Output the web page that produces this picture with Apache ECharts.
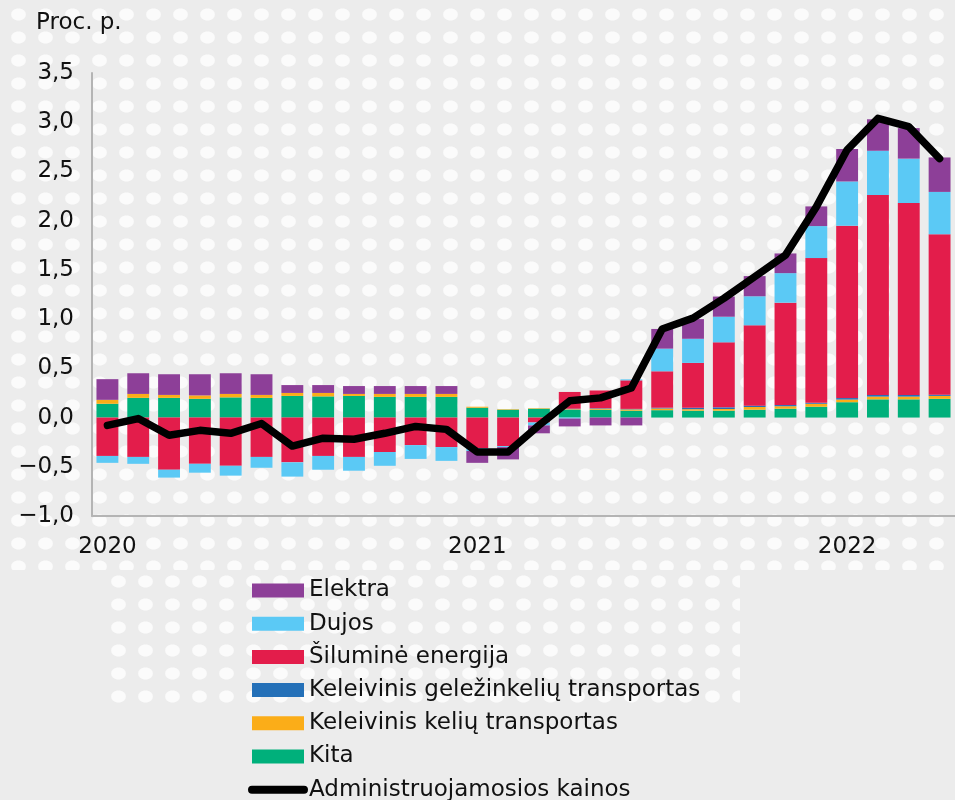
<!DOCTYPE html>
<html>
<head>
<meta charset="utf-8">
<script src="https://cdn.jsdelivr.net/npm/echarts@6/dist/echarts.min.js"></script>
<style>
    html, body { margin: 0; padding: 0; }
    #wrap {
        position: relative;
        width: 955px;
        height: 800px;
        background: #ececec;
        overflow: hidden;
    }
    .dots {
        position: absolute;
        background-image: radial-gradient(ellipse 8px 6.5px at 50% 50%, #fbfbfb 85%, rgba(251,251,251,0) 100%);
        background-size: 27px 23px;
    }
    #app {
        position: absolute;
        left: 0;
        top: 0;
        width: 955px;
        height: 800px;
    }
</style>
</head>
<body>
<div id="wrap">
    <div class="dots" style="left:0;top:0;width:955px;height:570px;background-position:5px 3px;"></div>
    <div class="dots" style="left:100px;top:570px;width:640px;height:135px;background-position:5px 0;"></div>
    <div id="app"></div>
</div>
<script>
// 月份（2020-01 ~ 2022-04）
let months = [
    "2020-01", "2020-02", "2020-03", "2020-04", "2020-05", "2020-06", "2020-07", "2020-08", "2020-09", "2020-10", "2020-11", "2020-12",
    "2021-01", "2021-02", "2021-03", "2021-04", "2021-05", "2021-06", "2021-07", "2021-08", "2021-09", "2021-10", "2021-11", "2021-12",
    "2022-01", "2022-02", "2022-03", "2022-04"
];
// 各分项贡献（百分点）
let kita = [0.14, 0.20, 0.20, 0.19, 0.205, 0.20, 0.22, 0.215, 0.22, 0.21, 0.21, 0.21,
    0.10, 0.08, 0.09, 0.08, 0.08, 0.07, 0.075, 0.07, 0.07, 0.08, 0.09, 0.11,
    0.156, 0.185, 0.185, 0.19];
let keliu = [0.04, 0.04, 0.03, 0.035, 0.035, 0.03, 0.03, 0.035, 0.02, 0.03, 0.03, 0.03,
    0.01, 0.005, 0.005, 0.005, 0.01, 0.013, 0.017, 0.015, 0.017, 0.027, 0.025, 0.03,
    0.027, 0.028, 0.028, 0.03];
let gelezinkeliu = [0, 0, 0, 0, 0, 0, 0, 0, 0, 0, 0, 0,
    0, 0, 0, 0.005, 0.005, 0.005, 0.008, 0.015, 0.017, 0.014, 0.012, 0.01,
    0.015, 0.017, 0.017, 0.012];
let siluma = [-0.39, -0.40, -0.53, -0.47, -0.49, -0.40, -0.455, -0.39, -0.40, -0.35, -0.28, -0.30,
    -0.31, -0.29, -0.05, 0.17, 0.18, 0.29, 0.37, 0.455, 0.66, 0.816, 1.04, 1.47,
    1.75, 2.03, 1.95, 1.63];
let dujos = [-0.07, -0.07, -0.08, -0.09, -0.10, -0.11, -0.145, -0.14, -0.14, -0.14, -0.14, -0.14,
    -0.03, -0.01, -0.03, -0.01, 0, 0.01, 0.23, 0.245, 0.26, 0.295, 0.30, 0.325,
    0.45, 0.45, 0.45, 0.43];
let elektra = [0.21, 0.21, 0.21, 0.215, 0.21, 0.21, 0.08, 0.08, 0.08, 0.08, 0.08, 0.08,
    -0.12, -0.125, -0.08, -0.08, -0.08, -0.08, 0.20, 0.20, 0.205, 0.205, 0.20, 0.20,
    0.33, 0.32, 0.31, 0.35];
// 管制价格（线）
let admin = [-0.08, -0.01, -0.18, -0.13, -0.16, -0.06, -0.29, -0.21, -0.22, -0.16, -0.09, -0.12,
    -0.35, -0.35, -0.08, 0.17, 0.20, 0.30, 0.90, 1.01, 1.21, 1.43, 1.65, 2.14,
    2.72, 3.04, 2.955, 2.63];

let font = "DejaVu Sans";

let bar = (name, data, color) => ({
    name: name,
    type: "bar",
    stack: "total",
    barCategoryGap: "29%",
    itemStyle: {color: color},
    data: data
});

let myChart = echarts.init(document.querySelector("#app"));
myChart.setOption({
    backgroundColor: "transparent",
    animation: false,
    textStyle: {fontFamily: font},
    // 单位
    title: {
        text: "Proc. p.",
        left: 31,
        top: 7,
        textStyle: {fontFamily: font, fontSize: 23, fontWeight: "normal", color: "#111"}
    },
    grid: {
        left: 92,
        right: -5,
        top: 73,
        bottom: 284
    },
    // 图例
    legend: {
        orient: "vertical",
        left: 248,
        top: 579,
        height: 260,
        padding: 0,
        itemWidth: 52,
        itemHeight: 14,
        itemGap: 10.2,
        textStyle: {fontFamily: font, fontSize: 23, color: "#111"},
        data: [
            {name: "Elektra", icon: "rect"},
            {name: "Dujos", icon: "rect"},
            {name: "Šiluminė energija", icon: "rect"},
            {name: "Keleivinis geležinkelių transportas", icon: "rect"},
            {name: "Keleivinis kelių transportas", icon: "rect"},
            {name: "Kita", icon: "rect"},
            {
                name: "Administruojamosios kainos",
                itemStyle: {opacity: 0},
                lineStyle: {width: 8, cap: "round", color: "#000"}
            }
        ]
    },
    xAxis: {
        type: "category",
        data: months,
        axisLine: {onZero: false, lineStyle: {color: "#b4b4b4", width: 2}},
        axisTick: {show: false},
        axisLabel: {
            interval: (idx) => idx % 12 === 0,
            formatter: (v) => v.slice(0, 4),
            margin: 20,
            fontFamily: font,
            fontSize: 23,
            color: "#111"
        }
    },
    yAxis: {
        type: "value",
        min: -1,
        max: 3.5,
        interval: 0.5,
        splitLine: {show: false},
        axisLine: {show: true, lineStyle: {color: "#b4b4b4", width: 2}},
        axisTick: {show: false},
        axisLabel: {
            margin: 18,
            fontFamily: font,
            fontSize: 23,
            color: "#111",
            formatter: (v) => v.toFixed(1).replace(".", ",").replace("-", "\u2212")
        }
    },
    series: [
        bar("Kita", kita, "#00b07b"),
        bar("Keleivinis kelių transportas", keliu, "#fbad18"),
        bar("Keleivinis geležinkelių transportas", gelezinkeliu, "#2470b8"),
        bar("Šiluminė energija", siluma, "#e31d4b"),
        bar("Dujos", dujos, "#5bc9f5"),
        bar("Elektra", elektra, "#8d3f98"),
        {
            name: "Administruojamosios kainos",
            type: "line",
            symbol: "none",
            z: 5,
            itemStyle: {color: "#000"},
            lineStyle: {color: "#000", width: 7.5, cap: "round", join: "round"},
            data: admin
        }
    ]
});
</script>
</body>
</html>
